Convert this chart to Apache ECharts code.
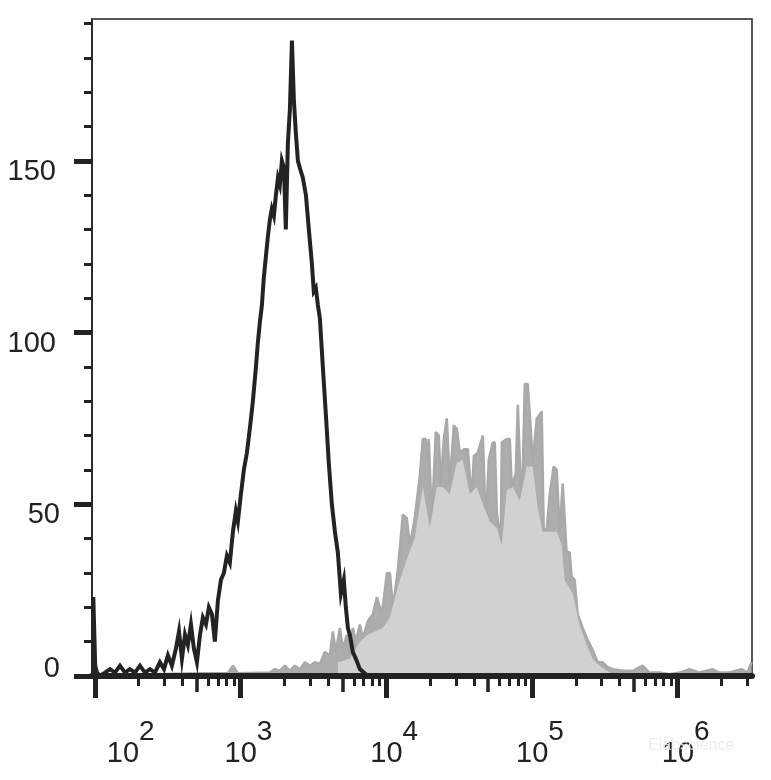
<!DOCTYPE html>
<html>
<head>
<meta charset="utf-8">
<script src="https://cdn.jsdelivr.net/npm/echarts@6/dist/echarts.min.js"></script>
<style>html,body{margin:0;padding:0;background:#fff}#c{width:771px;height:780px}</style>
</head>
<body>
<div id="c"></div>
<script>
// x values are log10 of fluorescence intensity
const X_MIN = 1.981, X_MAX = 6.51, Y_MIN = 0, Y_MAX = 191.3;
const decades = [2, 3, 4, 5, 6];
const minorMultipliers = [2, 3, 4, 6, 7, 8, 9];
const midMultiplier = [5];
const yMajor = [0, 50, 100, 150];
const yMinor = [10, 20, 30, 40, 60, 70, 80, 90, 110, 120, 130, 140, 160, 170, 180, 190];

// Control (black line)
const blackX = [1.988,1.990,2.003,2.015,2.036,2.070,2.104,2.139,2.173,2.207,2.241,2.276,2.310,2.344,2.379,2.413,2.447,2.475,2.502,2.529,2.557,2.578,2.598,2.619,2.639,2.660,2.680,2.701,2.722,2.742,2.763,2.783,2.804,2.824,2.845,2.866,2.886,2.907,2.927,2.948,2.968,2.982,3.003,3.023,3.044,3.064,3.085,3.106,3.119,3.133,3.147,3.160,3.174,3.188,3.202,3.215,3.229,3.243,3.257,3.270,3.284,3.298,3.311,3.325,3.339,3.353,3.366,3.380,3.394,3.407,3.428,3.449,3.469,3.490,3.503,3.517,3.531,3.545,3.565,3.586,3.606,3.627,3.648,3.668,3.689,3.709,3.723,3.737,3.750,3.771,3.792,3.819,3.846,3.874];
const blackY = [0,23,3,1,0,1,2,1,3,1,2,1,3,1,2,1,4,2,6,3,8,13,5,12,9,15,8,4,12,17,15,20,18,10,22,28,30,35,33,42,48,45,53,60,65,72,80,90,97,103,108,116,122,128,133,136,134,140,145,143,150,148,130,155,165,185,168,158,150,148,145,140,130,120,112,113,108,104,90,76,62,50,42,36,24,28,20,14,12,7,5,2,1,0];

// Stained sample (grey, raw histogram)
const greyX = [1.981,2.036,2.379,2.722,2.914,2.948,2.982,3.202,3.236,3.270,3.305,3.339,3.373,3.407,3.442,3.476,3.510,3.545,3.579,3.613,3.634,3.654,3.682,3.702,3.730,3.750,3.771,3.792,3.819,3.840,3.874,3.908,3.936,3.970,4.005,4.025,4.046,4.080,4.114,4.141,4.162,4.196,4.230,4.251,4.271,4.278,4.292,4.313,4.340,4.361,4.374,4.395,4.416,4.436,4.464,4.484,4.505,4.532,4.560,4.587,4.601,4.628,4.663,4.683,4.704,4.731,4.745,4.759,4.786,4.793,4.827,4.848,4.862,4.889,4.903,4.930,4.951,4.971,4.992,5.005,5.033,5.067,5.081,5.102,5.122,5.149,5.170,5.190,5.211,5.224,5.238,5.259,5.272,5.293,5.314,5.348,5.382,5.416,5.451,5.485,5.519,5.554,5.622,5.691,5.759,5.807,5.876,5.944,6.013,6.081,6.150,6.239,6.287,6.356,6.438,6.479,6.507];
const greyY = [0.5,0.5,0.5,0.8,0.8,3,0.8,1,2,1.5,3,1.5,3,2,4,3,4,3.5,7,6,13,7,14,8,12,6,14,10,15,11,16,18,23,18,30,30,20,31,47,46,38,46,58,69,69,63,69,45,71,70,55,69,75,56,73,72,65,66,66,51,64,65,70,44,63,68,68,48,38,68,69,69,55,59,79,47,85,85,72,62,75,77,42,43,53,61,60,42,56,56,36,36,29,28,18,14,10.5,7.6,4,4,2.6,2,1.5,1.5,3,1,1,0.5,1,2,1,2,1,1,2,1,4];

// Stained sample (grey, inner lighter body)
const innerX = [3.668,3.750,3.819,3.874,3.977,4.025,4.080,4.141,4.196,4.251,4.299,4.347,4.388,4.436,4.484,4.525,4.573,4.621,4.663,4.711,4.759,4.793,4.827,4.868,4.916,4.964,5.005,5.039,5.074,5.122,5.170,5.204,5.224,5.279,5.327,5.375,5.416,5.464,5.533,5.601];
const innerY = [4,5,10,12,14,17,26,34,40,55,43,55,55,53,62,63,53,55,50,45,43,38,54,55,51,61,61,49,42,42,42,38,28,24,15,9,5,3,1,0];

const zip = (xs, ys) => xs.map((x, i) => [x, ys[i]]);
const midTicks = [], minorTicks = [];
decades.forEach(d => {
  midMultiplier.forEach(m => { const v = d + Math.log10(m); if (v <= X_MAX) midTicks.push(v); });
  minorMultipliers.forEach(m => { const v = d + Math.log10(m); if (v <= X_MAX) minorTicks.push(v); });
});

const FONT = "'Liberation Sans Narrow', 'Arial Narrow', 'Liberation Sans', Arial, sans-serif";
const INK = '#222';

const baseX = {
  type: 'value', min: X_MIN, max: X_MAX, gridIndex: 0, position: 'bottom', z: 10,
  splitLine: { show: false }, minorTick: { show: false }
};
const baseY = {
  type: 'value', min: Y_MIN, max: Y_MAX, gridIndex: 0, position: 'left', z: 10,
  splitLine: { show: false }, minorTick: { show: false }
};

const option = {
  animation: false,
  backgroundColor: '#fff',
  grid: { left: 92, top: 19, width: 660, height: 657, show: true, borderColor: INK, borderWidth: 1.5, containLabel: false },
  xAxis: [
    Object.assign({}, baseX, {
      axisLine: { show: true, onZero: false, lineStyle: { color: INK, width: 6 } },
      axisTick: { show: true, customValues: decades, length: 22, lineStyle: { color: INK, width: 5 } },
      axisLabel: {
        show: true, customValues: decades, margin: 42, color: INK,
        formatter: v => { const e = Math.round(v); return e === 2 ? '{b2|10}{s|' + e + '}' : '{b|10}{s|' + e + '}'; },
        rich: {
          b: { fontFamily: FONT, fontSize: 29, color: INK, padding: [21, 0, 0, 16], verticalAlign: 'top' },
          b2: { fontFamily: FONT, fontSize: 29, color: INK, padding: [21, 0, 0, 72], verticalAlign: 'top' },
          s: { fontFamily: FONT, fontSize: 28, color: INK, verticalAlign: 'top' }
        }
      }
    }),
    Object.assign({}, baseX, {
      axisLine: { show: false, onZero: false },
      axisTick: { show: true, customValues: midTicks, length: 16, lineStyle: { color: INK, width: 3.5 } },
      axisLabel: { show: false }
    }),
    Object.assign({}, baseX, {
      axisLine: { show: false, onZero: false },
      axisTick: { show: true, customValues: minorTicks, length: 10, lineStyle: { color: INK, width: 3 } },
      axisLabel: { show: false }
    })
  ],
  yAxis: [
    Object.assign({}, baseY, {
      axisLine: { show: true, onZero: false, lineStyle: { color: INK, width: 1.6 } },
      axisTick: { show: true, customValues: yMajor, length: 18, lineStyle: { color: INK, width: 5 } },
      axisLabel: {
        show: true, customValues: yMajor, margin: 32, color: INK,
        formatter: v => v === 0 ? '{z|0}' : (v >= 100 ? '{w|' + v + '}' : '{n|' + v + '}'),
        rich: {
          n: { fontFamily: FONT, fontSize: 29, color: INK, padding: [22, 0, 0, 0] },
          w: { fontFamily: FONT, fontSize: 29, color: INK, padding: [22, 4, 0, 0] },
          z: { fontFamily: FONT, fontSize: 29, color: INK, padding: [0, 0, 14, 0] }
        }
      }
    }),
    Object.assign({}, baseY, {
      axisLine: { show: false, onZero: false },
      axisTick: { show: true, customValues: yMinor, length: 8, lineStyle: { color: INK, width: 3 } },
      axisLabel: { show: false }
    })
  ],
  series: [
    {
      name: 'stained', type: 'line', xAxisIndex: 0, yAxisIndex: 0, z: 2,
      data: zip(greyX, greyY), showSymbol: false, symbol: 'none', smooth: false,
      lineStyle: { color: '#a9a9a9', width: 2.5 },
      areaStyle: { color: '#adadad', opacity: 1 }
    },
    {
      name: 'stained-body', type: 'line', xAxisIndex: 0, yAxisIndex: 0, z: 3,
      data: zip(innerX, innerY), showSymbol: false, symbol: 'none', smooth: false,
      lineStyle: { width: 0, color: '#d1d1d1' },
      areaStyle: { color: '#d1d1d1', opacity: 1 }
    },
    {
      name: 'control', type: 'line', xAxisIndex: 0, yAxisIndex: 0, z: 4,
      data: zip(blackX, blackY), showSymbol: false, symbol: 'none', smooth: false,
      lineStyle: { color: '#232323', width: 4, join: 'miter' }
    }
  ],
  graphic: [
    { type: 'text', left: 648, top: 738, z: 100, silent: true,
      style: { text: 'Elabscience', fill: 'rgba(236,236,236,0.9)', font: "16px 'Liberation Sans', sans-serif" } }
  ]
};

const chart = echarts.init(document.getElementById('c'), null, { renderer: 'canvas' });
chart.setOption(option);
</script>
</body>
</html>
